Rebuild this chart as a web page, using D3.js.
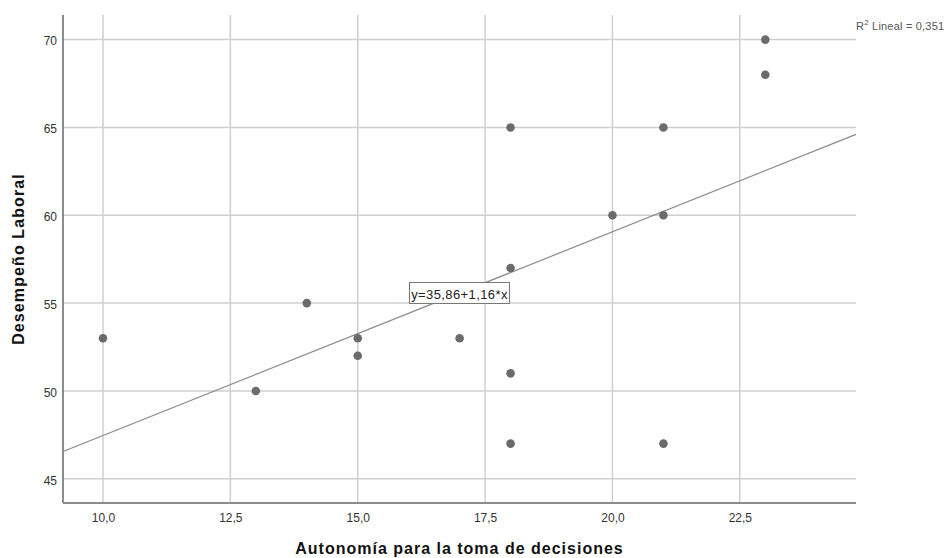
<!DOCTYPE html>
<html><head><meta charset="utf-8">
<script src="https://cdn.jsdelivr.net/npm/d3@7"></script>
<style>body{margin:0;background:#fff}svg{display:block;font-family:Arial,"Liberation Sans",sans-serif}</style>
</head><body><svg id="c" width="949" height="558"></svg>
<script>
const xValues = [10, 13, 14, 15, 15, 17, 18, 18, 18, 18, 20, 21, 21, 21, 23, 23];
const yValues = [53, 50, 55, 53, 52, 53, 65, 57, 51, 47, 60, 65, 60, 47, 70, 68];
const xTicks = [10, 12.5, 15, 17.5, 20, 22.5];
const yTicks = [45, 50, 55, 60, 65, 70];
const fitIntercept = 35.86, fitSlope = 1.16;
const fitLabel = "y=35,86+1,16*x";
const r2Label = "0,351";

const svg = d3.select("#c");
const L = 63, R = 856, T = 15, B = 503;
const x = d3.scaleLinear().domain([9.215, 24.78]).range([L, R]);
const y = d3.scaleLinear().domain([43.62, 71.4]).range([B, T]);
const fmt = v => d3.format(".1f")(v).replace(".", ",");
const FF = "Arial, 'Liberation Sans', sans-serif";

// grid
svg.append("g").selectAll("line").data(xTicks).join("line")
  .attr("x1", d => x(d)).attr("x2", d => x(d)).attr("y1", T).attr("y2", B)
  .attr("stroke", "#cfcfcf").attr("stroke-width", 1.5);
svg.append("g").selectAll("line").data(yTicks).join("line")
  .attr("x1", L).attr("x2", R).attr("y1", d => y(d)).attr("y2", d => y(d))
  .attr("stroke", "#cfcfcf").attr("stroke-width", 1.5);

// axes
const xa = svg.append("g").attr("transform", `translate(0,${B})`)
  .call(d3.axisBottom(x).tickValues(xTicks).tickSize(0).tickPadding(10.5).tickFormat(fmt));
const ya = svg.append("g").attr("transform", `translate(${L},0)`)
  .call(d3.axisLeft(y).tickValues(yTicks).tickSize(0).tickPadding(6).tickFormat(d3.format("d")));
[xa, ya].forEach(a => {
  a.select(".domain").remove();
  a.selectAll("text").attr("fill", "#333").style("font-size", "12px").style("font-family", FF);
});
ya.selectAll("text").attr("dy", "0.45em");
svg.append("line").attr("x1", L).attr("x2", L).attr("y1", T).attr("y2", B).attr("stroke", "#8c8c8c").attr("stroke-width", 2);
svg.append("line").attr("x1", L).attr("x2", R).attr("y1", B).attr("y2", B).attr("stroke", "#8c8c8c").attr("stroke-width", 2);

// fit line
const x0 = x.domain()[0], x1 = x.domain()[1];
svg.append("line")
  .attr("x1", x(x0)).attr("y1", y(fitIntercept + fitSlope * x0))
  .attr("x2", x(x1)).attr("y2", y(fitIntercept + fitSlope * x1))
  .attr("stroke", "#8a8a8a").attr("stroke-width", 1.2);

// points
svg.append("g").selectAll("circle").data(xValues.map((v, i) => [v, yValues[i]])).join("circle")
  .attr("cx", d => x(d[0])).attr("cy", d => y(d[1])).attr("r", 4.3).attr("fill", "#6b6b6b");

// fit label box
const lb = svg.append("g").attr("transform", "translate(409.5,282.5)");
lb.append("rect").attr("width", 100).attr("height", 21).attr("fill", "#fff").attr("stroke", "#777").attr("stroke-width", 1);
lb.append("text").attr("x", 50).attr("y", 16.5).attr("text-anchor", "middle")
  .style("font-size", "13px").style("letter-spacing", "0.4px").attr("fill", "#222").text(fitLabel);

// R2
const r2 = svg.append("text").attr("x", 856).attr("y", 30).style("font-size", "11px")
  .style("letter-spacing", "0.2px").attr("fill", "#555");
r2.append("tspan").text("R");
r2.append("tspan").attr("dy", -5).style("font-size", "8px").text("2");
r2.append("tspan").attr("dy", 5).text(" Lineal = " + r2Label);

// axis titles
svg.append("text").attr("x", (L + R) / 2).attr("y", 554).attr("text-anchor", "middle")
  .style("font-size", "16px").style("letter-spacing", "1px").style("font-weight", "bold").attr("fill", "#111")
  .text("Autonomía para la toma de decisiones");
svg.append("text").attr("transform", `translate(23.5,${(T + B) / 2}) rotate(-90)`).attr("text-anchor", "middle")
  .style("font-size", "16px").style("letter-spacing", "1.1px").style("font-weight", "bold").attr("fill", "#111")
  .text("Desempeño Laboral");
</script></body></html>
